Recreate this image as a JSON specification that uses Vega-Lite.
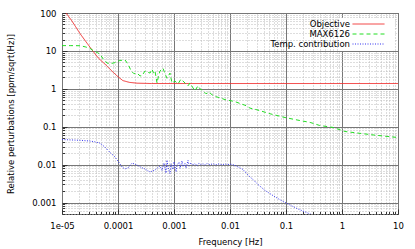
{
  "$schema": "https://vega.github.io/schema/vega-lite/v6.json",
  "autosize": "none",
  "width": 336,
  "height": 201,
  "padding": {"left": 62, "top": 13, "right": 17, "bottom": 35},
  "background": "white",
  "config": {
    "font": "DejaVu Sans",
    "view": {"stroke": "#333", "strokeWidth": 1},
    "axis": {"labelFont": "DejaVu Sans", "titleFont": "DejaVu Sans", "labelFontSize": 8.5, "titleFontSize": 8.5, "titleFontWeight": "normal", "labelColor": "#000", "titleColor": "#000", "domain": false, "tickColor": "#333"}
  },
  "data": {"values": [
    {"s": "Objective", "f": 1e-5, "v": 126},
    {"s": "Objective", "f": 1.18e-5, "v": 100},
    {"s": "Objective", "f": 1.5e-5, "v": 62},
    {"s": "Objective", "f": 2.1e-5, "v": 28.6},
    {"s": "Objective", "f": 2.8e-5, "v": 16},
    {"s": "Objective", "f": 3.58e-5, "v": 9.8},
    {"s": "Objective", "f": 4.5e-5, "v": 6.4},
    {"s": "Objective", "f": 5.85e-5, "v": 4.5},
    {"s": "Objective", "f": 7.5e-5, "v": 3.1},
    {"s": "Objective", "f": 9.6e-5, "v": 2.2},
    {"s": "Objective", "f": 1.22e-4, "v": 1.65},
    {"s": "Objective", "f": 1.6e-4, "v": 1.48},
    {"s": "Objective", "f": 2.2e-4, "v": 1.41},
    {"s": "Objective", "f": 4e-4, "v": 1.38},
    {"s": "Objective", "f": 10, "v": 1.38},

    {"s": "MAX6126", "f": 1e-5, "v": 13.8},
    {"s": "MAX6126", "f": 1.4e-5, "v": 13.8},
    {"s": "MAX6126", "f": 2.1e-5, "v": 13.7},
    {"s": "MAX6126", "f": 2.6e-5, "v": 12.8},
    {"s": "MAX6126", "f": 3.16e-5, "v": 11.7},
    {"s": "MAX6126", "f": 3.6e-5, "v": 10.2},
    {"s": "MAX6126", "f": 4.3e-5, "v": 9.0},
    {"s": "MAX6126", "f": 4.77e-5, "v": 8.2},
    {"s": "MAX6126", "f": 5.5e-5, "v": 6.0},
    {"s": "MAX6126", "f": 6.36e-5, "v": 4.8},
    {"s": "MAX6126", "f": 7.2e-5, "v": 4.6},
    {"s": "MAX6126", "f": 8.8e-5, "v": 4.9},
    {"s": "MAX6126", "f": 1.08e-4, "v": 5.6},
    {"s": "MAX6126", "f": 1.33e-4, "v": 5.8},
    {"s": "MAX6126", "f": 1.51e-4, "v": 4.5},
    {"s": "MAX6126", "f": 1.71e-4, "v": 3.0},
    {"s": "MAX6126", "f": 1.93e-4, "v": 2.5},
    {"s": "MAX6126", "f": 2.18e-4, "v": 2.6},
    {"s": "MAX6126", "f": 2.47e-4, "v": 2.2},
    {"s": "MAX6126", "f": 2.68e-4, "v": 2.2},
    {"s": "MAX6126", "f": 3.03e-4, "v": 2.95},
    {"s": "MAX6126", "f": 3.73e-4, "v": 2.6},
    {"s": "MAX6126", "f": 4.05e-4, "v": 3.3},
    {"s": "MAX6126", "f": 4.3e-4, "v": 2.6},
    {"s": "MAX6126", "f": 4.58e-4, "v": 2.95},
    {"s": "MAX6126", "f": 4.97e-4, "v": 1.43},
    {"s": "MAX6126", "f": 5.3e-4, "v": 2.2},
    {"s": "MAX6126", "f": 5.62e-4, "v": 2.95},
    {"s": "MAX6126", "f": 6.36e-4, "v": 3.5},
    {"s": "MAX6126", "f": 6.9e-4, "v": 2.5},
    {"s": "MAX6126", "f": 7.5e-4, "v": 1.9},
    {"s": "MAX6126", "f": 8.48e-4, "v": 2.6},
    {"s": "MAX6126", "f": 9.2e-4, "v": 1.43},
    {"s": "MAX6126", "f": 1.04e-3, "v": 1.6},
    {"s": "MAX6126", "f": 1.18e-3, "v": 1.35},
    {"s": "MAX6126", "f": 1.33e-3, "v": 1.8},
    {"s": "MAX6126", "f": 1.57e-3, "v": 1.43},
    {"s": "MAX6126", "f": 1.78e-3, "v": 1.2},
    {"s": "MAX6126", "f": 1.93e-3, "v": 1.43},
    {"s": "MAX6126", "f": 2.18e-3, "v": 1.06},
    {"s": "MAX6126", "f": 2.37e-3, "v": 0.89},
    {"s": "MAX6126", "f": 2.68e-3, "v": 1.2},
    {"s": "MAX6126", "f": 2.91e-3, "v": 1.0},
    {"s": "MAX6126", "f": 3.3e-3, "v": 0.89},
    {"s": "MAX6126", "f": 3.73e-3, "v": 0.74},
    {"s": "MAX6126", "f": 4.22e-3, "v": 0.83},
    {"s": "MAX6126", "f": 4.77e-3, "v": 0.70},
    {"s": "MAX6126", "f": 5.62e-3, "v": 0.62},
    {"s": "MAX6126", "f": 6.63e-3, "v": 0.58},
    {"s": "MAX6126", "f": 8.14e-3, "v": 0.52},
    {"s": "MAX6126", "f": 1e-2, "v": 0.49},
    {"s": "MAX6126", "f": 1.23e-2, "v": 0.46},
    {"s": "MAX6126", "f": 1.51e-2, "v": 0.41},
    {"s": "MAX6126", "f": 1.85e-2, "v": 0.37},
    {"s": "MAX6126", "f": 2.28e-2, "v": 0.31},
    {"s": "MAX6126", "f": 3.03e-2, "v": 0.28},
    {"s": "MAX6126", "f": 3.6e-2, "v": 0.26},
    {"s": "MAX6126", "f": 5.2e-2, "v": 0.22},
    {"s": "MAX6126", "f": 9.6e-2, "v": 0.175},
    {"s": "MAX6126", "f": 0.177, "v": 0.146},
    {"s": "MAX6126", "f": 0.27, "v": 0.13},
    {"s": "MAX6126", "f": 0.40, "v": 0.108},
    {"s": "MAX6126", "f": 0.69, "v": 0.096},
    {"s": "MAX6126", "f": 1.13, "v": 0.075},
    {"s": "MAX6126", "f": 2.1, "v": 0.067},
    {"s": "MAX6126", "f": 3.9, "v": 0.06},
    {"s": "MAX6126", "f": 10, "v": 0.052},

    {"s": "Temp. contribution", "f": 1e-5, "v": 0.046},
    {"s": "Temp. contribution", "f": 1.39e-5, "v": 0.045},
    {"s": "Temp. contribution", "f": 2.1e-5, "v": 0.044},
    {"s": "Temp. contribution", "f": 3.16e-5, "v": 0.042},
    {"s": "Temp. contribution", "f": 3.88e-5, "v": 0.040},
    {"s": "Temp. contribution", "f": 4.77e-5, "v": 0.037},
    {"s": "Temp. contribution", "f": 5.85e-5, "v": 0.029},
    {"s": "Temp. contribution", "f": 7.2e-5, "v": 0.021},
    {"s": "Temp. contribution", "f": 8.8e-5, "v": 0.016},
    {"s": "Temp. contribution", "f": 1e-4, "v": 0.0124},
    {"s": "Temp. contribution", "f": 1.18e-4, "v": 0.0087},
    {"s": "Temp. contribution", "f": 1.33e-4, "v": 0.0077},
    {"s": "Temp. contribution", "f": 1.51e-4, "v": 0.0082},
    {"s": "Temp. contribution", "f": 1.78e-4, "v": 0.011},
    {"s": "Temp. contribution", "f": 2.18e-4, "v": 0.0098},
    {"s": "Temp. contribution", "f": 2.57e-4, "v": 0.0085},
    {"s": "Temp. contribution", "f": 3.03e-4, "v": 0.0077},
    {"s": "Temp. contribution", "f": 3.73e-4, "v": 0.0064},
    {"s": "Temp. contribution", "f": 4.58e-4, "v": 0.0072},
    {"s": "Temp. contribution", "f": 5.62e-4, "v": 0.0093},
    {"s": "Temp. contribution", "f": 6.1e-4, "v": 0.0070},
    {"s": "Temp. contribution", "f": 6.63e-4, "v": 0.0110},
    {"s": "Temp. contribution", "f": 7.2e-4, "v": 0.0060},
    {"s": "Temp. contribution", "f": 7.5e-4, "v": 0.0132},
    {"s": "Temp. contribution", "f": 7.81e-4, "v": 0.0085},
    {"s": "Temp. contribution", "f": 8.48e-4, "v": 0.0058},
    {"s": "Temp. contribution", "f": 8.84e-4, "v": 0.0105},
    {"s": "Temp. contribution", "f": 9.6e-4, "v": 0.0075},
    {"s": "Temp. contribution", "f": 1.0e-3, "v": 0.0120},
    {"s": "Temp. contribution", "f": 1.09e-3, "v": 0.0065},
    {"s": "Temp. contribution", "f": 1.13e-3, "v": 0.0098},
    {"s": "Temp. contribution", "f": 1.23e-3, "v": 0.0115},
    {"s": "Temp. contribution", "f": 1.28e-3, "v": 0.0080},
    {"s": "Temp. contribution", "f": 1.39e-3, "v": 0.0125},
    {"s": "Temp. contribution", "f": 1.45e-3, "v": 0.0090},
    {"s": "Temp. contribution", "f": 1.57e-3, "v": 0.0108},
    {"s": "Temp. contribution", "f": 1.64e-3, "v": 0.0082},
    {"s": "Temp. contribution", "f": 1.78e-3, "v": 0.0130},
    {"s": "Temp. contribution", "f": 1.85e-3, "v": 0.0095},
    {"s": "Temp. contribution", "f": 2.01e-3, "v": 0.0112},
    {"s": "Temp. contribution", "f": 2.18e-3, "v": 0.0098},
    {"s": "Temp. contribution", "f": 2.37e-3, "v": 0.0108},
    {"s": "Temp. contribution", "f": 2.58e-3, "v": 0.0094},
    {"s": "Temp. contribution", "f": 2.79e-3, "v": 0.0110},
    {"s": "Temp. contribution", "f": 3.03e-3, "v": 0.0100},
    {"s": "Temp. contribution", "f": 3.3e-3, "v": 0.0106},
    {"s": "Temp. contribution", "f": 3.58e-3, "v": 0.0097},
    {"s": "Temp. contribution", "f": 3.88e-3, "v": 0.0108},
    {"s": "Temp. contribution", "f": 4.4e-3, "v": 0.0100},
    {"s": "Temp. contribution", "f": 4.97e-3, "v": 0.0106},
    {"s": "Temp. contribution", "f": 5.62e-3, "v": 0.0099},
    {"s": "Temp. contribution", "f": 6.36e-3, "v": 0.0105},
    {"s": "Temp. contribution", "f": 7.2e-3, "v": 0.0100},
    {"s": "Temp. contribution", "f": 8.14e-3, "v": 0.0104},
    {"s": "Temp. contribution", "f": 9.2e-3, "v": 0.0101},
    {"s": "Temp. contribution", "f": 1.04e-2, "v": 0.0103},
    {"s": "Temp. contribution", "f": 1.18e-2, "v": 0.0098},
    {"s": "Temp. contribution", "f": 1.33e-2, "v": 0.0090},
    {"s": "Temp. contribution", "f": 1.7e-2, "v": 0.0075},
    {"s": "Temp. contribution", "f": 2.1e-2, "v": 0.0053},
    {"s": "Temp. contribution", "f": 2.6e-2, "v": 0.0040},
    {"s": "Temp. contribution", "f": 3.16e-2, "v": 0.0030},
    {"s": "Temp. contribution", "f": 4.2e-2, "v": 0.0021},
    {"s": "Temp. contribution", "f": 5.6e-2, "v": 0.0016},
    {"s": "Temp. contribution", "f": 7.7e-2, "v": 0.0012},
    {"s": "Temp. contribution", "f": 0.104, "v": 0.00095},
    {"s": "Temp. contribution", "f": 0.156, "v": 0.0007},
    {"s": "Temp. contribution", "f": 0.27, "v": 0.0005},
    {"s": "Temp. contribution", "f": 0.37, "v": 0.0004}
  ]},
  "mark": {"type": "line", "clip": true, "strokeWidth": 1},
  "encoding": {
    "x": {
      "field": "f", "type": "quantitative", "title": "Frequency [Hz]",
      "scale": {"type": "log", "domain": [1e-5, 10], "nice": false},
      "axis": {
        "values": [1e-5,2e-5,3e-5,4e-5,5e-5,6e-5,7e-5,8e-5,9e-5,1e-4,2e-4,3e-4,4e-4,5e-4,6e-4,7e-4,8e-4,9e-4,1e-3,2e-3,3e-3,4e-3,5e-3,6e-3,7e-3,8e-3,9e-3,1e-2,2e-2,3e-2,4e-2,5e-2,6e-2,7e-2,8e-2,9e-2,0.1,0.2,0.3,0.4,0.5,0.6,0.7,0.8,0.9,1,2,3,4,5,6,7,8,9,10],
        "labelExpr": "abs(log(datum.value)/LN10 - round(log(datum.value)/LN10)) < 0.001 ? (datum.value < 0.00002 ? '1e-05' : format(datum.value, '~g')) : ''",
        "labelPadding": 12,
        "labelOverlap": false,
        "labelFlush": false,
        "grid": true,
        "gridColor": {"condition": {"test": "abs(log(datum.value)/LN10 - round(log(datum.value)/LN10)) < 0.001", "value": "#777"}, "value": "#bbb"},
        "gridDash": {"condition": {"test": "abs(log(datum.value)/LN10 - round(log(datum.value)/LN10)) < 0.001", "value": []}, "value": [1, 2]},
        "tickSize": {"condition": {"test": "abs(log(datum.value)/LN10 - round(log(datum.value)/LN10)) < 0.001", "value": -5}, "value": -2.5},
        "titlePadding": 5
      }
    },
    "y": {
      "field": "v", "type": "quantitative", "title": "Relative perturbations [ppm/sqrt(Hz)]",
      "scale": {"type": "log", "domain": [0.0005, 100], "nice": false},
      "axis": {
        "values": [5e-4,6e-4,7e-4,8e-4,9e-4,1e-3,2e-3,3e-3,4e-3,5e-3,6e-3,7e-3,8e-3,9e-3,1e-2,2e-2,3e-2,4e-2,5e-2,6e-2,7e-2,8e-2,9e-2,0.1,0.2,0.3,0.4,0.5,0.6,0.7,0.8,0.9,1,2,3,4,5,6,7,8,9,10,20,30,40,50,60,70,80,90,100],
        "labelExpr": "abs(log(datum.value)/LN10 - round(log(datum.value)/LN10)) < 0.001 ? format(datum.value, '~g') : ''",
        "labelPadding": 11,
        "labelOverlap": false,
        "labelFlush": false,
        "grid": true,
        "gridColor": {"condition": {"test": "abs(log(datum.value)/LN10 - round(log(datum.value)/LN10)) < 0.001", "value": "#777"}, "value": "#bbb"},
        "gridDash": {"condition": {"test": "abs(log(datum.value)/LN10 - round(log(datum.value)/LN10)) < 0.001", "value": []}, "value": [1, 2]},
        "tickSize": {"condition": {"test": "abs(log(datum.value)/LN10 - round(log(datum.value)/LN10)) < 0.001", "value": -5}, "value": -2.5},
        "titlePadding": 16
      }
    },
    "color": {
      "field": "s", "type": "nominal",
      "scale": {"domain": ["Objective", "MAX6126", "Temp. contribution"], "range": ["#f03030", "#22dd22", "#3333ee"]},
      "legend": {"title": null, "orient": "top-right", "offset": 5, "fillColor": "white", "strokeColor": "white", "padding": 1, "labelFontSize": 8.5, "labelFont": "DejaVu Sans", "symbolType": "M1.67,0H8.78M10,0L10,0", "symbolSize": 81, "symbolStrokeWidth": 1, "rowPadding": 0, "labelAlign": "right", "labelOffset": 0, "labelColor": "#000"}
    },
    "strokeDash": {
      "field": "s", "type": "nominal",
      "scale": {"domain": ["Objective", "MAX6126", "Temp. contribution"], "range": [[1, 0], [4, 3], [1, 1.5]]},
      "legend": null
    }
  }
}
